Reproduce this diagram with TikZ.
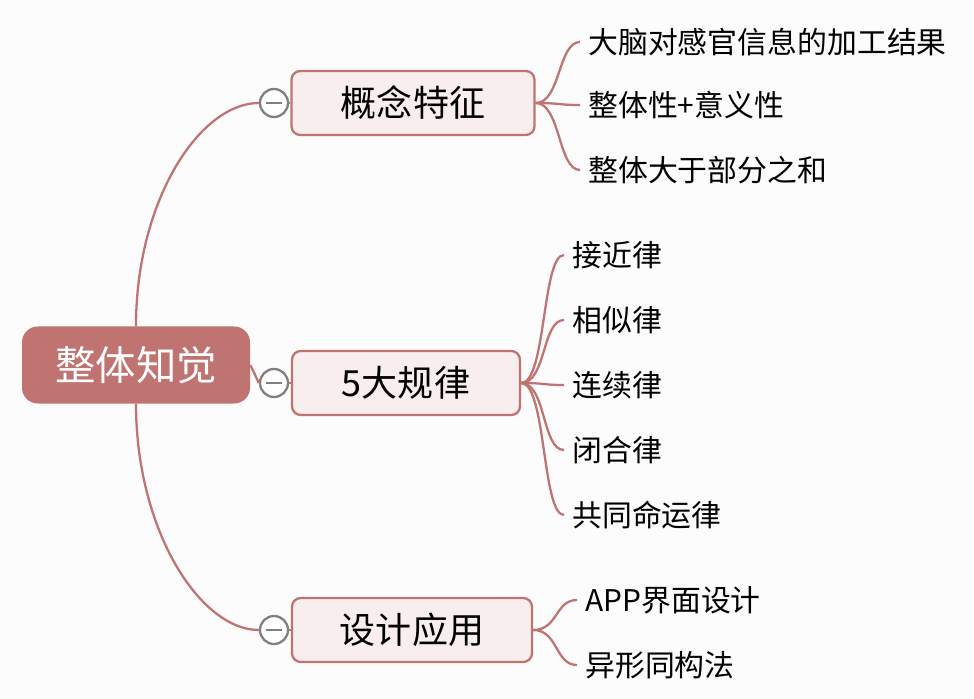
\documentclass[tikz,border=0pt]{standalone}
\usepackage{fontspec}
\setmainfont{Noto Sans CJK SC}
\usetikzlibrary{calc}
\definecolor{rootred}{HTML}{C07472}
\definecolor{boxpink}{HTML}{F8EEEE}
\definecolor{bggray}{HTML}{FCFCFD}
\tikzset{
  root/.style={rectangle, rounded corners=9pt, fill=rootred, text=white,
    minimum width=228*0.02cm, minimum height=77*0.02cm, font=\fontsize{23}{26}\selectfont},
  topic/.style={rectangle, rounded corners=5pt, fill=boxpink, draw=rootred, line width=1.3pt,
    minimum height=64*0.02cm, font=\fontsize{20.5}{24}\selectfont},
  leaf/.style={anchor=west, font=\fontsize{17}{20}\selectfont, inner sep=0pt},
  fold/.style={circle, draw=gray, fill=white, line width=1.3pt, minimum size=28*0.02cm, inner sep=0pt},
  link/.style={draw=rootred, line width=1.3pt}
}
\begin{document}
\begin{tikzpicture}[x=0.02cm,y=-0.02cm]
  \fill[bggray] (0,0) rectangle (974,699);
  \useasboundingbox (0,0) rectangle (974,699);

  \node[root] (r) at (136,365) {整体知觉};
  \node[topic, minimum width=243*0.02cm] (a) at (413,103) {概念特征};
  \node[topic, minimum width=228*0.02cm] (b) at (406,383) {5大规律};
  \node[topic, minimum width=240*0.02cm] (c) at (412,630) {设计应用};

  \node[fold] (fa) at (274,103) {};
  \node[fold] (fb) at (274,383) {};
  \node[fold] (fc) at (274,630) {};
  \foreach \f in {fa,fb,fc}
    \draw[gray, line width=1.3pt] ([xshift=-8*0.02cm]\f.center) -- ([xshift=8*0.02cm]\f.center);

  % root to topics
  \draw[link] (r.north) .. controls (136,200) and (200,103) .. (fa.west);
  \draw[link] (r.east) -- (fb.west);
  \draw[link] (r.south) .. controls (136,530) and (200,630) .. (fc.west);
  \draw[link] (fa.east) -- (a.west);
  \draw[link] (fb.east) -- (b.west);
  \draw[link] (fc.east) -- (c.west);

  % leaves
  \node[leaf] (a1) at (588,42)  {大脑对感官信息的加工结果};
  \node[leaf] (a2) at (588,105) {整体性+意义性};
  \node[leaf] (a3) at (588,170) {整体大于部分之和};
  \node[leaf] (b1) at (572,255) {接近律};
  \node[leaf] (b2) at (572,320) {相似律};
  \node[leaf] (b3) at (572,385) {连续律};
  \node[leaf] (b4) at (572,450) {闭合律};
  \node[leaf] (b5) at (572,515) {共同命运律};
  \node[leaf] (c1) at (585,600) {APP界面设计};
  \node[leaf] (c2) at (585,665) {异形同构法};

  \foreach \l in {a1,a2,a3}
    \draw[link] (a.east) .. controls ($(a.east)+(25,0)$) and ([xshift=-30*0.02cm]\l.west) .. ([xshift=-8*0.02cm]\l.west);
  \foreach \l in {b1,b2,b3,b4,b5}
    \draw[link] (b.east) .. controls ($(b.east)+(25,0)$) and ([xshift=-30*0.02cm]\l.west) .. ([xshift=-8*0.02cm]\l.west);
  \foreach \l in {c1,c2}
    \draw[link] (c.east) .. controls ($(c.east)+(25,0)$) and ([xshift=-30*0.02cm]\l.west) .. ([xshift=-8*0.02cm]\l.west);
\end{tikzpicture}
\end{document}
